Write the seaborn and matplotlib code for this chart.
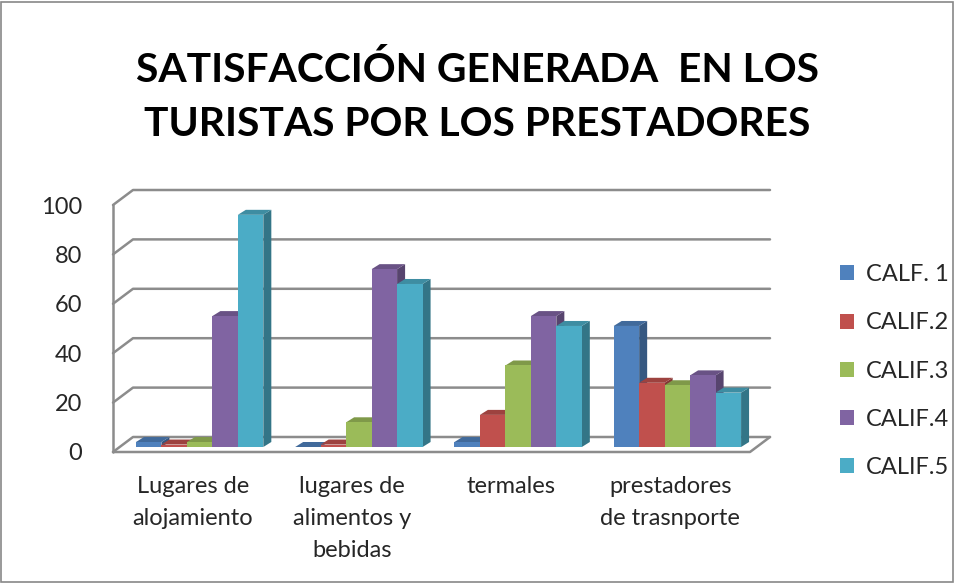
import matplotlib.pyplot as plt
import matplotlib.transforms as mtransforms
from matplotlib.patches import Polygon, Patch, Rectangle
from matplotlib.lines import Line2D
import numpy as np
import seaborn as sns
import pandas as pd

# data
categorias = ["Lugares de\nalojamiento", "lugares de\nalimentos y\nbebidas",
              "termales", "prestadores\nde trasnporte"]
series = ["CALF. 1", "CALIF.2", "CALIF.3", "CALIF.4", "CALIF.5"]
calif1 = [2, 0, 2, 49]
calif2 = [1, 1, 13, 26]
calif3 = [2, 10, 33, 25]
calif4 = [53, 72, 53, 29]
calif5 = [94, 66, 49, 22]
colores = ["#4F81BD", "#C0504D", "#9BBB59", "#8064A2", "#4BACC6"]
y_ticks = [0, 20, 40, 60, 80, 100]

rows = []
for serie, vals in zip(series, [calif1, calif2, calif3, calif4, calif5]):
    for cat, v in zip(categorias, vals):
        rows.append({"categoria": cat, "calif": serie, "valor": v})
df = pd.DataFrame(rows)

sns.set_theme(style="white")
plt.rcParams['font.family'] = ['Lato', 'DejaVu Sans']

fig = plt.figure(figsize=(9.55, 5.83), dpi=100)
W, H = 955, 583
ax = fig.add_axes([113 / W, 1 - 452 / H, 637 / W, 247 / H])

sns.barplot(data=df, x="categoria", y="valor", hue="calif", palette=colores,
            hue_order=series, order=categorias, width=0.8, saturation=1,
            ax=ax, zorder=5, linewidth=0)
ax.legend_.remove()
ax.set_xlim(-0.5, 3.5)
ax.set_ylim(0, 100)
for s in ax.spines.values():
    s.set_visible(False)
ax.set_xlabel("")
ax.set_ylabel("")
ax.set_yticks(y_ticks)
ax.tick_params(axis="y", labelsize=17, pad=22, length=0)
ax.tick_params(axis="x", labelsize=17, pad=17, length=0)
for lab in ax.get_xticklabels():
    lab.set_linespacing(1.65)
    lab.set_verticalalignment("top")

fig.canvas.draw()

# wall / floor depth and bar depth, in pixels
wdx, wdy = 20, 15
bdx, bdy = 8, 5
shift = mtransforms.ScaledTranslation(7 / 100, 5 / 100, fig.dpi_scale_trans)
to_disp = ax.transData
ident = mtransforms.IdentityTransform()

grid_col = "#8C8C8C"
x0d = to_disp.transform((-0.5, 0))[0]
x1d = to_disp.transform((3.5, 0))[0]
for v in y_ticks:
    yd = to_disp.transform((0, v))[1]
    ax.add_line(Line2D([x0d, x0d + wdx, x1d + wdx], [yd, yd + wdy, yd + wdy],
                       transform=ident, color=grid_col, lw=1.8, zorder=1,
                       clip_on=False))
y0d = to_disp.transform((0, 0))[1]
y100d = to_disp.transform((0, 100))[1]
ax.add_line(Line2D([x0d, x0d], [y0d, y100d], transform=ident, color=grid_col,
                   lw=1.8, zorder=1, clip_on=False))
ax.add_line(Line2D([x0d, x1d, x1d + wdx], [y0d, y0d, y0d + wdy], transform=ident,
                   color=grid_col, lw=1.8, zorder=1, clip_on=False))


def darker(c, f):
    r, g, b = plt.matplotlib.colors.to_rgb(c)
    return (r * f, g * f, b * f)


for i, cont in enumerate(ax.containers):
    col = colores[i]
    for p in cont.patches:
        p.set_transform(ax.transData + shift)
        bx, by = p.get_x(), p.get_y()
        bw, bh = p.get_width(), p.get_height()
        (xa, ya) = (ax.transData + shift).transform((bx, by))
        (xb, yb) = (ax.transData + shift).transform((bx + bw, by + bh))
        side = Polygon([(xb, ya), (xb + bdx, ya + bdy), (xb + bdx, yb + bdy), (xb, yb)],
                       closed=True, transform=ident, facecolor=darker(col, 0.68),
                       edgecolor="none", zorder=4, clip_on=False)
        top = Polygon([(xa, yb), (xa + bdx, yb + bdy), (xb + bdx, yb + bdy), (xb, yb)],
                      closed=True, transform=ident, facecolor=darker(col, 0.82),
                      edgecolor="none", zorder=4, clip_on=False)
        ax.add_patch(side)
        ax.add_patch(top)

handles = [Patch(facecolor=c, edgecolor="none") for c in colores]
fig.legend(handles, series, loc="center left", bbox_to_anchor=(819 / W, 1 - 371 / H),
           frameon=False, fontsize=17, handlelength=0.6, handleheight=0.6,
           labelspacing=1.15, handletextpad=0.5)

fig.text(0.5, 1 - 70 / H, "SATISFACCIÓN GENERADA  EN LOS", ha="center", va="center",
         fontsize=29.3, fontweight="bold", color="black")
fig.text(0.5, 1 - 125 / H, "TURISTAS POR LOS PRESTADORES", ha="center", va="center",
         fontsize=29.3, fontweight="bold", color="black")

fig.patches.append(Rectangle((1 / W, 1 / H), 952 / W, 580 / H, transform=fig.transFigure,
                             fill=False, edgecolor="#888888", lw=1.2))

fig.savefig("out.png", dpi=100)
